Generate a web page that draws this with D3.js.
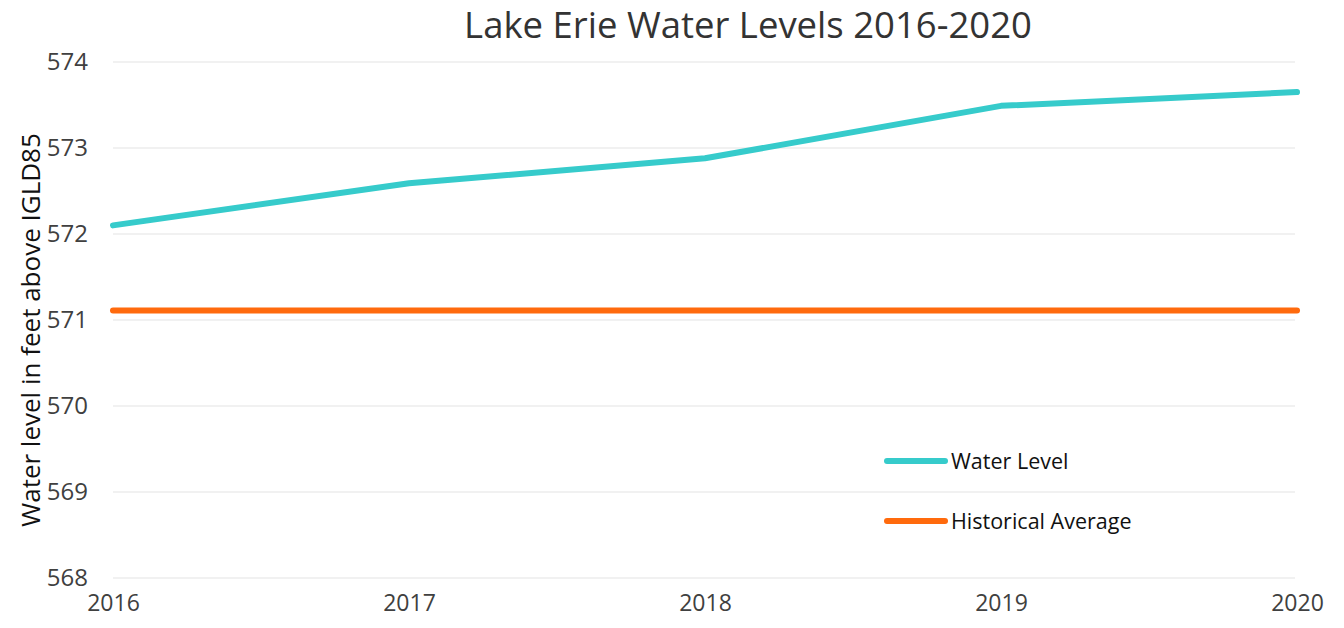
<!DOCTYPE html>
<html>
<head>
<meta charset="utf-8">
<script src="https://cdn.jsdelivr.net/npm/d3@7"></script>
<style>
  body { margin: 0; background: #fff; }
  text { font-family: "Open Sans", "Liberation Sans", sans-serif; }
</style>
</head>
<body>
<div id="chart"></div>
<script>
// data
var years = [2016, 2017, 2018, 2019, 2020];
var waterLevel = [572.10, 572.59, 572.88, 573.49, 573.65];
var historicalAverage = [571.11, 571.11, 571.11, 571.11, 571.11];
var yTicks = [568, 569, 570, 571, 572, 573, 574];
var seriesNames = ["Water Level", "Historical Average"];
var seriesColors = ["#36CBCB", "#FF6A0D"];

var svgWidth = 1344;
var svgHeight = 628;
var margin = {top: 62, right: 47, bottom: 50, left: 113};
var width = svgWidth - margin.left - margin.right;
var height = svgHeight - margin.top - margin.bottom;

var svg = d3.select("#chart")
  .append("svg")
  .attr("width", svgWidth)
  .attr("height", svgHeight);

var chartGroup = svg.append("g")
  .attr("transform", `translate(${margin.left}, ${margin.top})`);

// scales
var xScale = d3.scaleLinear()
  .domain([2016, 2020])
  .range([0, width]);

var yScale = d3.scaleLinear()
  .domain([568, 574])
  .range([height, 0]);

// gridlines
chartGroup.append("g")
  .selectAll("line")
  .data(yTicks)
  .enter()
  .append("line")
  .attr("x1", 0)
  .attr("x2", width - 2)
  .attr("y1", d => yScale(d))
  .attr("y2", d => yScale(d))
  .attr("stroke", "#ececec")
  .attr("stroke-width", 1.5);

// y axis
var yAxis = d3.axisLeft(yScale).tickValues(yTicks).tickSize(0).tickPadding(25).tickFormat(d3.format("d"));
chartGroup.append("g")
  .call(yAxis)
  .call(g => g.select(".domain").remove())
  .selectAll("text")
  .attr("font-size", 24)
  .attr("fill", "#404040");

// x axis
var xAxis = d3.axisBottom(xScale).tickValues(years).tickSize(0).tickPadding(17).tickFormat(d3.format("d"));
chartGroup.append("g")
  .attr("transform", `translate(0, ${height})`)
  .call(xAxis)
  .call(g => g.select(".domain").remove())
  .selectAll("text")
  .attr("font-size", 23)
  .attr("fill", "#404040");

// lines
var line = d3.line()
  .x((d, i) => xScale(years[i]))
  .y(d => yScale(d));

[waterLevel, historicalAverage].forEach(function (series, i) {
  chartGroup.append("path")
    .datum(series)
    .attr("fill", "none")
    .attr("stroke", seriesColors[i])
    .attr("stroke-width", 6)
    .attr("stroke-linecap", "round")
    .attr("stroke-linejoin", "round")
    .attr("d", line);
});

// title
svg.append("text")
  .attr("x", 748)
  .attr("y", 38)
  .attr("text-anchor", "middle")
  .attr("font-size", 36.5)
  .attr("fill", "#333")
  .text("Lake Erie Water Levels 2016-2020");

// y label
svg.append("text")
  .attr("transform", "rotate(-90)")
  .attr("x", -330)
  .attr("y", 40)
  .attr("text-anchor", "middle")
  .attr("font-size", 26)
  .attr("fill", "#111")
  .text("Water level in feet above IGLD85");

// legend
var legend = svg.append("g")
  .attr("transform", "translate(887, 461)");

seriesNames.forEach(function (name, i) {
  var row = legend.append("g").attr("transform", `translate(0, ${i * 60})`);
  row.append("line")
    .attr("x1", 0).attr("x2", 58)
    .attr("stroke", seriesColors[i])
    .attr("stroke-width", 6)
    .attr("stroke-linecap", "round");
  row.append("text")
    .attr("x", 64)
    .attr("y", 8)
    .attr("font-size", 21.5)
    .attr("fill", "#111")
    .text(name);
});
</script>
</body>
</html>
